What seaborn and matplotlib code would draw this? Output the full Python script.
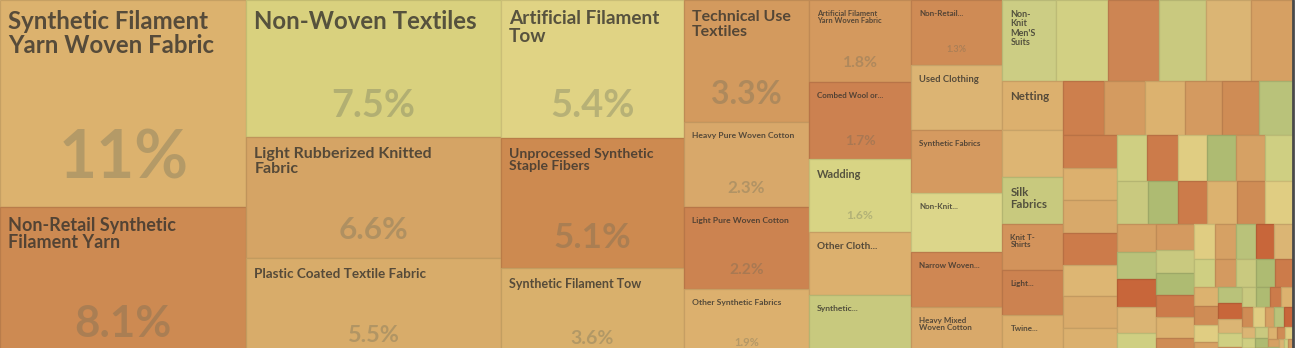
import matplotlib
matplotlib.use("Agg")
import matplotlib.pyplot as plt
from matplotlib.patches import Rectangle
import matplotlib.colors as mcolors
import seaborn as sns

# ---------------- data ----------------
labels = [
    "Synthetic Filament\nYarn Woven Fabric", "Non-Retail Synthetic\nFilament Yarn",
    "Non-Woven Textiles", "Light Rubberized Knitted\nFabric", "Plastic Coated Textile Fabric",
    "Artificial Filament\nTow", "Unprocessed Synthetic\nStaple Fibers", "Synthetic Filament Tow",
    "Technical Use\nTextiles", "Heavy Pure Woven Cotton", "Light Pure Woven Cotton",
    "Other Synthetic Fabrics", "Artificial Filament\nYarn Woven Fabric", "Combed Wool or...",
    "Wadding", "Other Cloth...", "Synthetic...",
    "Non-Retail...", "Used Clothing", "Synthetic Fabrics", "Non-Knit...", "Narrow Woven...",
    "Heavy Mixed\nWoven Cotton",
    "Non-\nKnit\nMen'S\nSuits", "", "", "", "", "",
    "Netting", "", "Silk\nFabrics", "Knit T-\nShirts", "Light...", "Twine...",
]
shares = [
    11.0, 8.1, 7.54, 6.64, 5.54, 5.44, 5.14, 3.6, 3.3, 2.3, 2.2, 1.9, 1.8, 1.7, 1.6, 1.4, 1.4,
    1.28, 1.28, 1.24, 1.16, 1.09, 1.03,
    0.94, 0.92, 0.88, 0.83, 0.79, 0.74,
    0.64, 0.62, 0.61, 0.60, 0.59, 0.58,
    0.48, 0.47, 0.46, 0.44, 0.42, 0.40,
    0.38, 0.38, 0.38, 0.37, 0.37, 0.37, 0.36,
    0.30, 0.30, 0.29, 0.29, 0.28, 0.28,
]
small_shares = [
    0.28, 0.28, 0.27, 0.27, 0.26, 0.26,
    0.24, 0.23, 0.23, 0.22, 0.22, 0.21,
    0.19, 0.18, 0.18, 0.17, 0.17, 0.16, 0.16,
    0.15, 0.14, 0.14, 0.13, 0.13, 0.12, 0.12,
    0.11, 0.10, 0.10, 0.09, 0.09, 0.08, 0.08,
    0.07, 0.07, 0.06, 0.06, 0.06, 0.05, 0.05, 0.05, 0.05,
    0.04, 0.04, 0.04, 0.03, 0.03, 0.03, 0.03, 0.03, 0.03,
    0.025, 0.02, 0.02, 0.02, 0.015, 0.015, 0.01, 0.01,
    0.01, 0.008, 0.006, 0.005, 0.004, 0.003, 0.002, 0.002, 0.001,
]

# ---------------- styles ----------------
tile_colors = [
    "#dcb26e", "#cd8a52", "#d9d17e", "#d5a465", "#d8ac6a", "#e0d384", "#cd8a50", "#d9b06c",
    "#d39a5e", "#d8a86a", "#cc8350", "#dcb06e", "#d4995e", "#cc8150", "#d8d484", "#dcb06e",
    "#c8c97e", "#cf8b55", "#dcb473", "#d59a60", "#dcd68a", "#cf8753", "#d9a96a",
    "#cccd84", "#d2d083", "#cd8553", "#c9c97f", "#dbb574", "#d6a063",
    "#dcb06e", "#ddb573", "#c8c97e", "#d3935b", "#cc8250", "#dbae6c",
    "#cd7f4d", "#d49b60", "#dcb26f", "#d49a60", "#cf8c55", "#b9c27a",
    "#cd7f4d", "#dcb06e", "#d8a96a", "#cc7b4a", "#ddb673", "#d9ab6b", "#dbb06e",
    "#cfcf82", "#cc7b4a", "#e0cd82", "#aebb72", "#d6a164", "#cfcf82",
]
tail_palette = ["#c9c97f", "#aebb72", "#cc7b4a", "#dcb26f", "#cf8c55", "#e0cd82",
                "#d6a164", "#b9c27a", "#c8663a", "#dbb574", "#cfcf82", "#d49a60"]
title_px = [24, 18, 24, 16, 13.5, 19, 14, 12.5, 16, 8.5, 8.5, 8.5, 7.5, 8, 11, 10, 8.5,
            8, 9.5, 8, 8, 8, 8, 9, 0, 0, 0, 0, 0, 11.5, 0, 11.5, 8, 8, 8]
show_share = [True] * 15 + [False, False, True]

values = shares + small_shares
colors = tile_colors + [tail_palette[i % len(tail_palette)] for i in range(len(small_shares))]
colors[-1] = "#c0492a"
colors[-3] = "#c8552e"

W, H, VIS_H = 1293.0, 359.0, 348.0
PHI = (1 + 5 ** 0.5) / 2


def squarify(vals, x0, y0, x1, y1, ratio=PHI):
    rects = []
    n = len(vals)
    i0 = i1 = 0
    value = float(sum(vals))
    while i0 < n:
        dx, dy = x1 - x0, y1 - y0
        sumv = vals[i1]
        i1 += 1
        minv = maxv = sumv
        alpha = max(dy / dx, dx / dy) / (value * ratio)
        beta = sumv * sumv * alpha
        minr = max(maxv / beta, beta / minv)
        while i1 < n:
            nv = vals[i1]
            s2 = sumv + nv
            mn, mx = min(minv, nv), max(maxv, nv)
            beta = s2 * s2 * alpha
            newr = max(mx / beta, beta / mn)
            if newr > minr:
                break
            sumv, minv, maxv, minr = s2, mn, mx, newr
            i1 += 1
        row = vals[i0:i1]
        if dx < dy:
            h = dy * sumv / value
            xx = x0
            for v in row:
                w = dx * v / sumv
                rects.append((xx, y0, w, h))
                xx += w
            y0 += h
        else:
            w = dx * sumv / value
            yy = y0
            for v in row:
                hh = dy * v / sumv
                rects.append((x0, yy, w, hh))
                yy += hh
            x0 += w
        value -= sumv
        i0 = i1
    return rects


sns.set_theme(style="white")
plt.rcParams["font.family"] = ["Lato", "DejaVu Sans"]

fig = plt.figure(figsize=(13.03, 3.48), dpi=100)
fig.patch.set_facecolor("white")
ax = fig.add_axes([0, 0, W / 1303.0, 1])
ax.set_xlim(0, W)
ax.set_ylim(VIS_H, 0)
ax.axis("off")

rects = squarify(values, 0, 0, W, H)
px2pt = 72.0 / 100.0
for i, ((x, y, w, h), v, c) in enumerate(zip(rects, values, colors)):
    rgb = mcolors.to_rgb(c)
    edge = tuple(max(0, ch * 0.9) for ch in rgb)
    ax.add_patch(Rectangle((x, y), w, h, facecolor=c, edgecolor=edge, linewidth=0.9))
    if i < len(labels) and labels[i] and title_px[i] > 0:
        ax.text(x + 8, y + 10, labels[i], ha="left", va="top",
                fontsize=title_px[i] * px2pt, fontweight="bold",
                color="#35322d", alpha=0.8, linespacing=1.05)
    if i < len(show_share) and show_share[i]:
        fs = max(min(0.4 * h - 17, 0.27 * w), 6)
        ax.text(x + w / 2, y + 0.77 * h, f"{v:.2g}%", ha="center", va="center",
                fontsize=fs * px2pt, fontweight="bold", color="#5a6358", alpha=0.3)

ax.plot([W, W], [0, VIS_H], color="#4a4a4a", linewidth=2, clip_on=False)

fig.savefig("out.png", dpi=100, facecolor="white")
